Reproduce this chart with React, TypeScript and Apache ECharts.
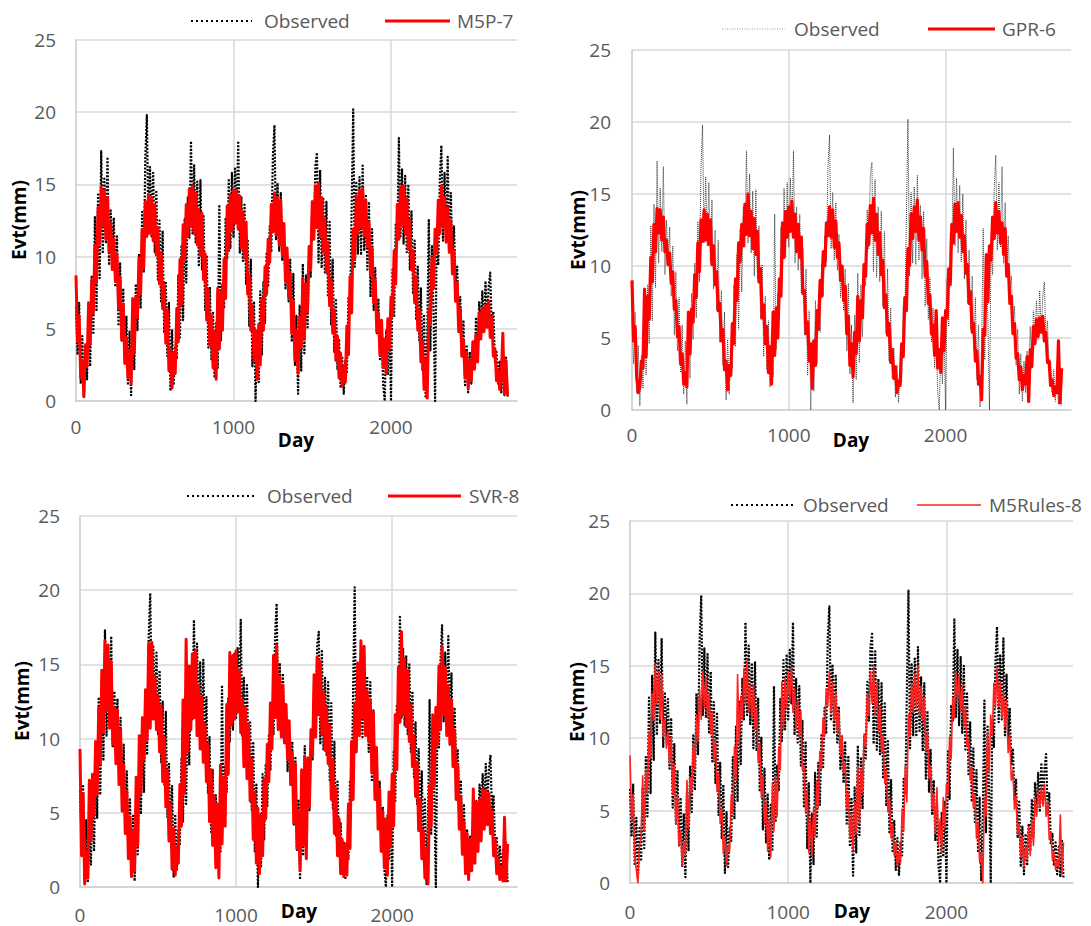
import { useEffect, useRef } from "react";
import * as echarts from "echarts";

const DAY_STEP = 10;
const X_TICKS = [0, 1000, 2000];
const Y_TICKS = [0, 5, 10, 15, 20, 25];

const OBSERVED = [
  6.5, 3.2, 6.8, 1.2, 4.5, 0.3, 3.8, 1.5, 6.6, 2.4,
  8.7, 4.6, 12.8, 6.2, 14.3, 8.5, 17.3, 10.2, 15.4, 11.0,
  16.9, 9.4, 13.2, 10.1, 12.7, 7.9, 11.4, 5.2, 9.6, 4.1,
  7.8, 2.6, 5.9, 1.1, 4.8, 0.4, 6.3, 2.2, 8.1, 4.9,
  10.2, 6.4, 13.1, 8.9, 16.8, 19.8, 11.6, 16.2, 11.4, 15.8,
  10.3, 14.6, 8.4, 12.5, 6.9, 11.8, 4.7, 8.3, 3.1, 6.8,
  0.7, 4.9, 1.1, 3.8, 2.9, 8.7, 4.4, 10.8, 5.6, 12.6,
  8.2, 14.1, 11.3, 18.0, 11.6, 16.4, 10.9, 15.2, 9.3, 15.3,
  9.1, 12.8, 6.3, 10.1, 3.7, 7.9, 2.8, 6.2, 1.6, 5.4,
  2.3, 13.6, 4.2, 8.1, 6.4, 12.7, 9.8, 15.4, 10.6, 15.8,
  11.3, 16.1, 12.4, 18.0, 10.2, 14.1, 9.7, 13.6, 8.1, 11.2,
  5.2, 9.8, 2.4, 6.9, 0.0, 4.8, 1.3, 7.6, 3.2, 8.3,
  5.4, 10.2, 7.9, 12.1, 10.3, 16.9, 19.1, 11.2, 15.1, 10.4,
  14.4, 9.7, 12.2, 7.8, 10.1, 6.9, 9.8, 4.1, 8.8, 2.5,
  5.9, 0.5, 6.6, 2.1, 9.5, 3.3, 8.7, 5.1, 10.2, 8.6,
  13.9, 11.2, 16.3, 17.2, 9.6, 16.0, 9.2, 14.1, 8.9, 13.8,
  7.2, 12.4, 5.3, 9.8, 3.4, 7.1, 2.2, 4.3, 0.9, 3.1,
  0.5, 2.8, 1.9, 7.2, 6.1, 13.2, 20.2, 9.3, 15.1, 10.2,
  15.5, 10.1, 16.3, 10.4, 14.2, 9.1, 13.8, 7.2, 11.9, 6.3,
  9.2, 4.7, 7.1, 2.9, 5.4, 1.2, 0.0, 4.9, 1.8, 5.6,
  0.0, 9.1, 5.8, 12.3, 11.2, 18.2, 11.4, 16.1, 10.9, 15.6,
  10.3, 15.0, 9.1, 13.2, 7.4, 11.1, 5.6, 9.3, 4.2, 7.8,
  2.1, 5.9, 0.2, 4.6, 12.6, 3.5, 10.8, 6.2, 0.0, 11.3,
  9.4, 15.3, 17.7, 11.1, 15.8, 11.3, 16.9, 10.2, 14.4, 9.7,
  12.1, 8.2, 9.3, 5.8, 7.2, 3.1, 5.6, 1.1, 3.9, 0.6,
  3.4, 1.2, 4.1, 2.2, 5.8, 3.1, 6.9, 5.2, 7.6, 4.9,
  8.3, 5.4, 7.9, 8.9, 4.8, 6.2, 2.7, 3.4, 1.2, 2.8,
  0.6, 2.5, 0.4, 3.0, 0.3,
];

const M5P_7 = [
  8.7, 4.1, 5.9, 1.6, 2.8, 0.3, 3.9, 2.4, 6.8, 3.9,
  8.4, 6.1, 10.8, 8.2, 13.4, 10.9, 14.8, 12.1, 14.6, 11.2,
  14.1, 10.3, 12.4, 9.1, 11.2, 8.3, 10.2, 6.4, 8.6, 4.3,
  6.7, 2.6, 4.4, 1.6, 3.5, 1.2, 7.1, 3.3, 7.2, 5.8,
  9.9, 7.4, 11.9, 9.2, 13.8, 11.4, 14.3, 11.6, 14.1, 11.1,
  13.6, 10.1, 12.0, 8.1, 10.3, 6.4, 8.1, 4.0, 6.3, 2.1,
  3.6, 0.9, 3.3, 1.9, 6.4, 4.1, 9.8, 6.7, 12.2, 9.8,
  13.6, 11.4, 14.7, 12.1, 14.9, 11.6, 14.4, 10.8, 13.3, 10.1,
  13.0, 8.4, 10.2, 5.6, 7.7, 3.8, 5.9, 2.3, 4.8, 1.5,
  7.8, 3.6, 7.5, 4.9, 9.8, 7.1, 13.5, 10.4, 14.3, 11.8,
  14.6, 12.3, 14.6, 11.9, 14.2, 10.6, 13.1, 9.9, 12.4, 7.4,
  8.7, 4.9, 6.6, 2.8, 4.9, 1.5, 5.3, 2.5, 7.1, 4.9,
  9.3, 7.4, 11.2, 9.6, 13.6, 11.7, 14.4, 11.5, 14.1, 10.8,
  13.9, 10.1, 12.3, 8.3, 10.6, 7.2, 8.9, 4.7, 6.9, 2.8,
  4.9, 1.9, 5.8, 3.7, 8.5, 4.3, 8.1, 6.2, 10.7, 9.1,
  13.8, 11.2, 14.9, 12.0, 15.1, 11.4, 14.1, 10.3, 12.6, 8.9,
  11.0, 6.6, 8.4, 4.7, 6.3, 2.8, 4.5, 1.6, 3.3, 1.0,
  2.4, 1.3, 5.2, 3.2, 8.6, 6.1, 11.9, 9.8, 14.2, 11.6,
  14.6, 12.0, 14.7, 11.4, 13.9, 10.7, 12.4, 8.7, 10.6, 6.8,
  8.4, 4.8, 6.1, 3.2, 5.6, 2.3, 4.3, 1.9, 5.7, 3.6,
  7.2, 5.9, 10.4, 8.1, 13.6, 11.2, 14.8, 12.1, 14.9, 11.6,
  14.0, 10.5, 12.5, 9.1, 10.4, 6.8, 8.6, 4.9, 6.3, 2.7,
  4.2, 0.8, 2.9, 0.2, 6.4, 5.3, 9.9, 7.8, 11.9, 10.2,
  13.9, 11.6, 14.9, 12.1, 14.1, 11.0, 13.4, 10.3, 12.5, 8.8,
  10.4, 6.9, 8.2, 4.8, 6.4, 3.1, 4.2, 1.6, 3.4, 0.9,
  2.8, 1.4, 4.1, 2.2, 4.6, 2.7, 6.1, 4.3, 6.4, 4.8,
  6.6, 5.1, 6.9, 4.4, 5.8, 3.1, 3.6, 1.4, 2.2, 0.8,
  1.6, 4.7, 0.5, 2.8, 0.4,
];

const GPR_6 = [
  9.0, 4.8, 5.8, 2.3, 1.2, 1.6, 3.4, 2.9, 8.4, 3.7,
  7.9, 6.3, 10.6, 8.9, 12.9, 11.0, 14.0, 12.3, 13.9, 11.8,
  13.4, 11.0, 11.8, 10.1, 10.9, 8.8, 9.6, 7.0, 7.6, 5.1,
  5.8, 3.2, 3.9, 1.8, 2.6, 1.6, 6.8, 3.9, 7.0, 6.1,
  9.4, 7.8, 11.6, 9.6, 13.2, 11.7, 13.9, 11.8, 13.6, 11.5,
  13.2, 10.1, 11.4, 8.7, 9.6, 6.9, 7.4, 4.8, 5.6, 2.8,
  3.4, 1.4, 3.1, 2.4, 6.0, 4.6, 9.1, 7.6, 11.6, 10.3,
  12.9, 11.4, 14.3, 12.2, 15.0, 12.1, 13.8, 11.2, 13.3, 10.8,
  12.4, 8.9, 9.8, 6.4, 7.3, 4.6, 5.8, 2.6, 4.4, 1.8,
  6.8, 3.8, 7.1, 5.0, 9.1, 7.9, 13.0, 10.6, 13.8, 12.0,
  14.1, 12.4, 14.5, 12.0, 13.6, 11.0, 12.9, 10.6, 12.0, 8.1,
  8.3, 5.3, 6.1, 3.4, 4.6, 1.5, 4.8, 3.1, 6.9, 5.6,
  9.0, 7.9, 11.0, 10.0, 13.0, 12.1, 14.1, 12.0, 13.9, 11.3,
  13.1, 10.6, 11.6, 9.0, 10.0, 7.6, 8.6, 5.3, 6.5, 3.1,
  4.6, 2.3, 5.4, 3.9, 7.9, 4.8, 7.6, 6.4, 10.1, 9.3,
  12.9, 11.5, 14.2, 12.3, 14.7, 11.8, 13.6, 10.8, 12.3, 9.4,
  10.4, 7.1, 8.0, 5.2, 6.0, 3.3, 4.2, 2.2, 3.0, 1.2,
  2.0, 1.7, 4.6, 3.7, 7.8, 6.9, 11.2, 10.0, 13.6, 11.9,
  14.1, 12.4, 14.6, 11.8, 13.4, 11.1, 12.6, 9.3, 10.3, 7.4,
  8.0, 5.3, 5.9, 3.8, 6.9, 2.9, 4.2, 2.6, 6.4, 4.1,
  6.9, 6.4, 9.8, 8.7, 12.9, 11.6, 14.3, 12.4, 14.4, 12.0,
  13.5, 11.0, 12.1, 9.5, 10.1, 7.4, 8.2, 5.4, 6.0, 3.4,
  4.1, 1.8, 2.3, 0.7, 5.6, 5.2, 10.8, 7.5, 11.4, 10.4,
  13.4, 11.9, 14.4, 12.3, 13.8, 11.6, 13.0, 10.8, 12.6, 9.3,
  10.1, 7.4, 7.9, 5.3, 6.0, 3.6, 3.9, 2.1, 3.0, 1.4,
  2.4, 1.8, 3.7, 0.6, 4.2, 3.0, 5.8, 4.6, 6.3, 5.1,
  6.4, 5.4, 6.5, 4.8, 5.4, 3.3, 3.4, 1.7, 2.1, 1.0,
  1.6, 1.2, 4.8, 0.5, 2.9,
];

const SVR_8 = [
  9.3, 2.1, 6.3, 0.2, 2.4, 0.6, 7.2, 3.1, 7.6, 4.8,
  9.8, 6.2, 12.1, 8.3, 14.6, 10.4, 16.6, 11.9, 16.3, 10.7,
  15.2, 9.6, 12.1, 8.3, 11.9, 6.9, 10.6, 5.1, 8.2, 3.6,
  6.5, 1.9, 4.7, 0.7, 3.8, 1.1, 7.4, 2.8, 10.2, 6.3,
  11.4, 8.6, 13.3, 9.9, 16.4, 10.7, 16.5, 11.3, 14.2, 10.6,
  12.8, 9.1, 12.2, 7.1, 10.1, 5.4, 7.8, 3.1, 5.6, 1.2,
  3.9, 0.8, 2.7, 1.6, 6.9, 4.1, 12.6, 6.3, 16.7, 9.1,
  14.9, 10.6, 15.7, 11.4, 15.9, 10.2, 13.6, 9.3, 12.8, 8.4,
  11.0, 7.1, 9.6, 4.4, 7.9, 2.8, 6.1, 1.3, 5.6, 0.6,
  8.2, 2.9, 7.4, 4.1, 12.3, 7.6, 15.8, 10.9, 15.6, 11.3,
  15.9, 11.8, 14.6, 10.4, 12.6, 8.1, 12.1, 7.3, 11.0, 5.8,
  8.6, 3.2, 6.4, 1.6, 5.3, 0.9, 4.9, 2.1, 7.3, 4.6,
  9.6, 7.1, 12.4, 9.3, 15.6, 11.4, 16.3, 10.6, 14.2, 10.1,
  13.6, 9.7, 12.3, 8.6, 11.2, 6.9, 9.1, 4.3, 8.3, 2.6,
  5.1, 1.1, 7.9, 2.8, 8.8, 1.9, 8.7, 5.4, 10.6, 8.8,
  14.3, 10.1, 15.5, 11.6, 15.2, 10.3, 13.1, 9.2, 12.1, 8.3,
  10.9, 5.9, 8.6, 3.6, 6.6, 2.1, 4.6, 0.9, 3.2, 0.7,
  2.9, 0.8, 5.6, 2.6, 9.8, 5.9, 12.4, 9.1, 15.1, 10.2,
  16.6, 11.4, 16.2, 10.2, 13.2, 9.8, 12.6, 7.7, 11.8, 5.9,
  9.4, 3.9, 6.6, 2.4, 5.1, 1.3, 4.6, 0.8, 6.4, 2.7,
  7.6, 4.1, 11.6, 7.9, 14.8, 11.1, 17.2, 11.6, 15.4, 10.8,
  14.6, 9.8, 12.3, 8.1, 10.2, 6.1, 8.4, 3.8, 5.9, 1.9,
  3.8, 0.6, 2.6, 0.2, 6.8, 4.1, 11.6, 6.8, 12.1, 9.6,
  14.9, 10.6, 16.2, 11.6, 14.8, 10.2, 13.6, 9.6, 12.6, 8.1,
  10.6, 5.9, 8.2, 3.9, 6.1, 2.2, 4.4, 0.9, 3.6, 0.5,
  3.2, 1.1, 6.6, 1.6, 5.7, 2.4, 5.9, 3.1, 6.6, 3.9,
  6.5, 4.2, 6.3, 3.6, 5.1, 2.1, 3.2, 0.9, 1.9, 0.5,
  1.4, 0.4, 4.7, 0.4, 2.9,
];

const M5RULES_8 = [
  8.8, 4.3, 6.1, 1.8, 0.9, 0.0, 2.6, 3.1, 7.4, 3.6,
  7.8, 6.2, 10.4, 8.6, 13.1, 11.2, 15.1, 12.4, 14.6, 11.3,
  14.4, 10.1, 11.4, 9.3, 10.4, 8.2, 10.1, 6.1, 8.2, 4.1,
  6.1, 2.6, 3.6, 1.2, 2.9, 1.9, 7.1, 3.8, 7.3, 6.2,
  9.6, 7.9, 11.6, 9.8, 13.4, 11.3, 14.6, 12.1, 14.2, 11.4,
  13.1, 10.3, 11.8, 8.4, 9.9, 6.3, 7.6, 4.1, 5.1, 2.0,
  3.2, 1.2, 2.6, 2.2, 6.1, 4.8, 9.4, 7.1, 14.4, 9.6,
  12.9, 11.3, 14.8, 12.4, 15.4, 11.8, 13.6, 11.3, 13.7, 10.6,
  12.1, 8.3, 9.6, 5.9, 7.4, 4.1, 5.6, 2.2, 4.4, 1.8,
  6.9, 3.6, 7.4, 4.6, 9.4, 7.8, 13.9, 10.6, 14.1, 12.1,
  14.6, 12.6, 14.9, 11.8, 13.4, 10.6, 12.6, 10.1, 11.9, 7.8,
  8.1, 4.8, 6.4, 2.1, 4.4, 1.9, 5.2, 3.2, 7.0, 5.2,
  9.1, 7.8, 11.4, 10.1, 13.4, 12.2, 14.6, 11.8, 13.8, 11.2,
  13.2, 10.4, 11.8, 8.9, 10.2, 7.6, 8.3, 5.1, 6.3, 3.1,
  4.8, 2.2, 5.6, 3.4, 8.1, 4.1, 7.9, 6.2, 10.3, 9.4,
  13.1, 11.6, 14.6, 12.4, 14.9, 11.6, 13.8, 10.5, 12.2, 9.0,
  10.2, 6.9, 7.8, 4.9, 5.9, 3.1, 4.1, 1.9, 2.8, 1.1,
  2.1, 1.4, 5.1, 3.6, 8.1, 5.6, 11.6, 10.2, 13.8, 11.8,
  14.4, 12.1, 15.0, 11.6, 13.6, 11.2, 12.8, 9.1, 10.4, 7.2,
  8.1, 5.1, 6.2, 3.4, 6.6, 2.6, 4.4, 2.1, 5.9, 3.8,
  6.8, 6.1, 10.1, 8.6, 12.8, 11.4, 14.6, 12.6, 14.3, 11.9,
  13.6, 10.8, 12.2, 9.4, 10.0, 7.1, 8.0, 5.2, 6.1, 3.1,
  4.2, 1.4, 2.1, 0.0, 5.9, 4.6, 10.4, 7.6, 11.6, 10.2,
  13.8, 12.1, 14.9, 12.2, 13.9, 11.4, 13.2, 10.8, 12.6, 9.0,
  10.2, 7.1, 7.8, 5.1, 6.0, 3.4, 4.1, 1.8, 3.2, 1.1,
  2.6, 1.6, 3.9, 1.9, 4.4, 2.6, 5.9, 4.6, 6.3, 5.2,
  6.6, 5.3, 6.8, 4.6, 5.6, 3.0, 3.5, 1.6, 2.1, 0.9,
  1.6, 1.1, 4.7, 0.6, 2.8,
];

const MODEL_NAMES = ["M5P-7", "GPR-6", "SVR-8", "M5Rules-8"];
const MODEL_VALUES = [M5P_7, GPR_6, SVR_8, M5RULES_8];

const FONT = '"Open Sans", "Noto Sans", sans-serif';
const GRAY_TEXT = "#595959";

const LAYOUT = [
  {
    grid: { left: 76, top: 40, width: 441, height: 361 },
    xMargin: 16, yMargin: 20,
    yName: [19, 220], xName: [296, 440],
    legendY: 21, dot: [191, 252], obsX: 264, red: [385, 450], modelX: 457,
    obsColor: "#000000", obsWidth: 2.2, obsDash: [2, 1.5],
    legDotColor: "#000000", legDotWidth: 2,
    redColor: "#ff0000", redWidth: 3, legRedWidth: 3,
  },
  {
    grid: { left: 632, top: 50, width: 439, height: 360 },
    xMargin: 15, yMargin: 21,
    yName: [578, 230], xName: [851, 440],
    legendY: 29, dot: [722, 785], obsX: 794, red: [928, 995], modelX: 1002,
    obsColor: "#3a3a3a", obsWidth: 1, obsDash: [1, 1],
    legDotColor: "#9a9a9a", legDotWidth: 1,
    redColor: "#ff0000", redWidth: 3.2, legRedWidth: 3,
  },
  {
    grid: { left: 80, top: 516, width: 437, height: 371 },
    xMargin: 18, yMargin: 20,
    yName: [22, 701], xName: [299, 911],
    legendY: 496, dot: [187, 254], obsX: 267, red: [388, 461], modelX: 469,
    obsColor: "#000000", obsWidth: 2.2, obsDash: [2, 1.5],
    legDotColor: "#000000", legDotWidth: 2,
    redColor: "#ff0000", redWidth: 3, legRedWidth: 3,
  },
  {
    grid: { left: 630, top: 521, width: 443, height: 362 },
    xMargin: 19, yMargin: 20,
    yName: [577, 702], xName: [852, 911],
    legendY: 505, dot: [731, 796], obsX: 803, red: [917, 981], modelX: 989,
    obsColor: "#000000", obsWidth: 2.2, obsDash: [2, 1.5],
    legDotColor: "#000000", legDotWidth: 2,
    redColor: "#ff2020", redWidth: 1.6, legRedWidth: 1.6,
  },
];

const toPoints = (vals: number[]) => vals.map((v, i) => [i * DAY_STEP, v]);

export default function App() {
  const ref = useRef<HTMLDivElement>(null);

  useEffect(() => {
    if (!ref.current) return;
    const chart = echarts.init(ref.current, undefined, { renderer: "svg" });

    const grids: any[] = [];
    const xAxes: any[] = [];
    const yAxes: any[] = [];
    const series: any[] = [];
    const graphics: any[] = [];

    LAYOUT.forEach((L, i) => {
      grids.push({ ...L.grid, containLabel: false });
      xAxes.push({
        type: "value",
        gridIndex: i,
        min: X_TICKS[0],
        max: 2800,
        interval: X_TICKS[1] - X_TICKS[0],
        axisLine: { show: true, lineStyle: { color: "#c8c8c8", width: 1.5 } },
        axisTick: { show: false },
        axisLabel: {
          margin: L.xMargin,
          color: GRAY_TEXT,
          fontFamily: FONT,
          fontSize: 19,
          showMaxLabel: false,
          formatter: (v: number) => (X_TICKS.includes(v) ? String(v) : ""),
        },
        splitLine: { show: true, showMinLine: false, showMaxLine: false, lineStyle: { color: "#d9d9d9", width: 1.5 } },
      });
      yAxes.push({
        type: "value",
        gridIndex: i,
        min: Y_TICKS[0],
        max: Y_TICKS[Y_TICKS.length - 1],
        interval: Y_TICKS[1] - Y_TICKS[0],
        axisLine: { show: true, lineStyle: { color: "#c8c8c8", width: 1.5 } },
        axisTick: { show: false },
        axisLabel: { margin: L.yMargin, color: GRAY_TEXT, fontFamily: FONT, fontSize: 19 },
        splitLine: { show: true, showMinLine: false, lineStyle: { color: "#d9d9d9", width: 1.5 } },
      });
      series.push({
        name: "Observed",
        type: "line",
        xAxisIndex: i,
        yAxisIndex: i,
        data: toPoints(OBSERVED),
        symbol: "none",
        silent: true,
        z: 2,
        lineStyle: { color: L.obsColor, width: L.obsWidth, type: L.obsDash, join: "round" },
      });
      series.push({
        name: MODEL_NAMES[i],
        type: "line",
        xAxisIndex: i,
        yAxisIndex: i,
        data: toPoints(MODEL_VALUES[i]),
        symbol: "none",
        silent: true,
        z: 3,
        lineStyle: { color: L.redColor, width: L.redWidth, join: "round" },
      });

      // legend
      graphics.push({
        type: "line",
        shape: { x1: L.dot[0], y1: L.legendY, x2: L.dot[1], y2: L.legendY },
        style: { stroke: L.legDotColor, lineWidth: L.legDotWidth, lineDash: [L.legDotWidth, L.legDotWidth * 1.5] },
      });
      graphics.push({
        type: "text",
        x: L.obsX,
        y: L.legendY,
        style: { text: "Observed", fill: GRAY_TEXT, font: `19px ${FONT}`, align: "left", verticalAlign: "middle" },
      });
      graphics.push({
        type: "line",
        shape: { x1: L.red[0], y1: L.legendY, x2: L.red[1], y2: L.legendY },
        style: { stroke: L.redColor, lineWidth: L.legRedWidth },
      });
      graphics.push({
        type: "text",
        x: L.modelX,
        y: L.legendY,
        style: { text: MODEL_NAMES[i], fill: GRAY_TEXT, font: `19px ${FONT}`, align: "left", verticalAlign: "middle" },
      });
      // axis titles
      graphics.push({
        type: "text",
        x: L.yName[0],
        y: L.yName[1],
        rotation: Math.PI / 2,
        style: { text: "Evt(mm)", fill: "#000000", font: `bold 19px ${FONT}`, align: "center", verticalAlign: "middle" },
      });
      graphics.push({
        type: "text",
        x: L.xName[0],
        y: L.xName[1],
        style: { text: "Day", fill: "#000000", font: `bold 19px ${FONT}`, align: "center", verticalAlign: "middle" },
      });
    });

    chart.setOption({
      animation: false,
      backgroundColor: "#ffffff",
      grid: grids,
      xAxis: xAxes,
      yAxis: yAxes,
      series,
      graphic: graphics,
    });

    return () => chart.dispose();
  }, []);

  return (
    <div
      ref={ref}
      style={{ position: "absolute", left: 0, top: 0, width: 1091, height: 926 }}
    />
  );
}
